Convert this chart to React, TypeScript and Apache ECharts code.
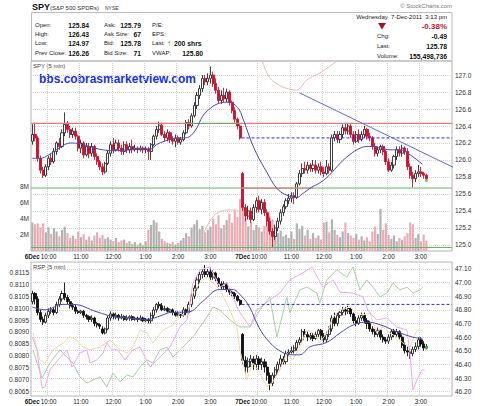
import React, { useEffect, useRef } from "react";
import * as echarts from "echarts";

const FONT = "'Liberation Sans', Arial, sans-serif";

// Two 5-minute sessions (9:30 - 15:55), 78 bars each
const sessionDays = ["6Dec", "7Dec"];
const barsPerDay = 78;

// SPY 5-min bars: [open, close, low, high]
const spyBars: number[][] = [
  [126.22,126.30,126.18,126.42],[126.30,126.26,126.22,126.44],[126.26,126.02,125.98,126.28],[126.02,125.88,125.84,126.05],
  [125.88,125.82,125.79,125.92],[125.82,125.92,125.80,125.95],[125.92,126.02,125.88,126.05],[126.02,125.98,125.94,126.08],
  [125.98,126.10,125.96,126.14],[126.10,126.20,126.06,126.22],[126.20,126.16,126.12,126.26],[126.16,126.32,126.14,126.36],
  [126.32,126.42,126.28,126.56],[126.42,126.36,126.32,126.46],[126.36,126.30,126.26,126.40],[126.30,126.34,126.26,126.38],
  [126.34,126.28,126.24,126.38],[126.28,126.14,126.10,126.30],[126.14,126.20,126.08,126.24],[126.20,126.06,126.02,126.22],
  [126.06,126.16,126.04,126.20],[126.16,126.08,126.02,126.20],[126.08,126.16,126.04,126.20],[126.16,126.04,126.00,126.18],
  [126.04,125.98,125.94,126.08],[125.98,125.92,125.88,126.00],[125.92,125.86,125.82,125.96],[125.86,125.96,125.84,125.98],
  [125.96,126.08,125.94,126.12],[126.08,126.18,126.04,126.22],[126.18,126.12,126.08,126.26],[126.12,126.20,126.10,126.24],
  [126.20,126.14,126.10,126.24],[126.14,126.10,126.06,126.18],[126.10,126.18,126.06,126.22],[126.18,126.12,126.08,126.22],
  [126.12,126.16,126.08,126.20],[126.16,126.12,126.08,126.24],[126.12,126.14,126.10,126.18],[126.14,126.12,126.08,126.16],
  [126.12,126.14,126.10,126.17],[126.14,126.12,126.08,126.16],[126.12,126.13,126.08,126.16],[126.13,126.10,126.00,126.15],
  [126.10,126.18,126.00,126.20],[126.18,126.28,126.16,126.30],[126.28,126.36,126.24,126.40],[126.36,126.41,126.32,126.45],
  [126.41,126.30,126.28,126.44],[126.30,126.26,126.22,126.34],[126.26,126.32,126.22,126.36],[126.32,126.24,126.20,126.34],
  [126.24,126.22,126.18,126.28],[126.22,126.26,126.15,126.30],[126.26,126.21,126.18,126.29],[126.21,126.24,126.18,126.27],
  [126.24,126.32,126.22,126.35],[126.32,126.44,126.30,126.47],[126.44,126.40,126.36,126.48],[126.40,126.52,126.38,126.55],
  [126.52,126.64,126.50,126.68],[126.64,126.76,126.60,126.80],[126.76,126.84,126.72,126.88],[126.84,126.96,126.80,127.00],
  [126.96,126.92,126.88,127.00],[126.92,126.96,126.88,127.02],[126.96,127.00,126.90,127.10],[127.00,126.90,126.86,127.04],
  [126.90,126.82,126.78,126.96],[126.82,126.70,126.66,126.86],[126.70,126.76,126.66,126.82],[126.76,126.72,126.68,126.85],
  [126.72,126.80,126.68,126.84],[126.80,126.68,126.64,126.82],[126.68,126.58,126.55,126.70],[126.58,126.48,126.44,126.62],
  [126.48,126.40,126.36,126.50],[126.40,126.26,126.24,126.42],
  // 7 Dec
  [125.84,125.44,125.40,125.86],[125.44,125.34,125.28,125.48],[125.34,125.40,125.30,125.46],[125.40,125.30,125.26,125.44],
  [125.30,125.44,125.28,125.48],[125.44,125.52,125.38,125.56],[125.52,125.42,125.38,125.58],[125.42,125.50,125.36,125.54],
  [125.50,125.38,125.34,125.54],[125.38,125.28,125.22,125.42],[125.28,125.16,125.12,125.32],[125.16,125.10,124.97,125.20],
  [125.10,125.20,125.06,125.24],[125.20,125.28,125.16,125.32],[125.28,125.38,125.24,125.42],[125.38,125.45,125.34,125.48],
  [125.45,125.52,125.42,125.55],[125.52,125.55,125.48,125.60],[125.55,125.58,125.50,125.62],[125.58,125.56,125.48,125.62],
  [125.56,125.72,125.54,125.74],[125.72,125.84,125.70,125.88],[125.84,125.90,125.80,125.96],[125.90,125.88,125.84,125.98],
  [125.88,125.94,125.84,125.98],[125.94,125.90,125.86,125.96],[125.90,125.94,125.86,126.00],[125.94,125.88,125.84,126.00],
  [125.88,125.92,125.84,125.96],[125.92,125.86,125.82,125.98],[125.86,125.84,125.80,125.92],[125.84,125.92,125.82,126.00],
  [125.92,125.88,125.84,125.96],[125.88,126.26,125.86,126.30],[126.26,126.30,126.22,126.34],[126.30,126.24,126.20,126.34],
  [126.24,126.30,126.20,126.34],[126.30,126.38,126.26,126.42],[126.38,126.34,126.30,126.43],[126.34,126.40,126.30,126.43],
  [126.40,126.30,126.26,126.42],[126.30,126.22,126.18,126.34],[126.22,126.30,126.20,126.34],[126.30,126.24,126.20,126.36],
  [126.24,126.30,126.22,126.34],[126.30,126.36,126.26,126.40],[126.36,126.28,126.24,126.38],[126.28,126.26,126.22,126.32],
  [126.26,126.16,126.12,126.28],[126.16,126.08,126.04,126.20],[126.08,126.12,126.04,126.16],[126.12,126.16,126.08,126.18],
  [126.16,126.10,126.06,126.18],[126.10,125.98,125.94,126.12],[125.98,125.88,125.86,126.02],[125.88,125.94,125.86,125.98],
  [125.94,126.04,125.90,126.06],[126.04,126.12,126.00,126.16],[126.12,126.08,126.04,126.16],[126.08,126.14,126.04,126.18],
  [126.14,126.10,126.06,126.16],[126.10,125.92,125.88,126.14],[125.92,125.82,125.78,125.96],[125.82,125.78,125.68,125.86],
  [125.78,125.84,125.74,125.88],[125.84,125.86,125.80,125.94],[125.86,125.84,125.80,125.92],[125.84,125.82,125.78,125.86],
  [125.82,125.78,125.76,125.84],
];

// SPY volume per bar, millions of shares
const spyVolumeM: number[] = [
  3.5,3.3,3.4,2.9,3.4,2.3,2.9,2.1,2.8,2.4, 1.8,2.6,3.0,2.2,1.6,1.9,1.5,2.4,1.7,2.1,
  1.4,1.8,1.3,1.9,2.3,1.6,2.0,1.5,1.7,1.4, 1.2,1.6,1.1,1.3,1.4,1.0,1.2,0.9,1.1,0.8,
  1.0,0.7,1.2,2.6,3.2,3.8,3.5,2.4,1.5,1.2, 1.0,0.9,1.1,0.8,1.0,1.3,1.6,2.2,1.8,2.9,
  3.3,3.8,2.7,3.1,2.3,2.6,3.0,4.0,3.3,4.4, 2.8,3.2,3.8,4.6,3.5,5.0,4.2,6.4,
  6.0,4.1,3.0,3.6,2.6,3.2,2.9,2.4,3.1,3.5, 4.3,3.9,2.8,2.2,2.5,1.8,2.0,1.6,2.4,1.5,
  3.4,2.7,3.1,1.9,2.6,1.5,2.2,1.6,1.9,1.4, 3.5,3.6,2.3,3.9,2.6,2.0,1.7,2.4,3.5,2.2,
  1.9,1.6,2.1,1.4,1.8,1.3,1.7,1.2,2.4,3.0, 2.1,5.2,2.6,3.4,2.0,1.5,1.9,1.2,1.6,1.4,
  1.8,2.2,3.5,3.3,1.6,2.1,1.2,2.0,1.3,
];

// SPY moving average, [bar index, price]
const spyMA: number[][] = [
  [0,126.02],[3,126.02],[6,126.06],[10,126.14],[14,126.20],[18,126.19],[21,126.16],[26,126.12],[30,126.11],
  [36,126.12],[41,126.13],[44,126.13],[46,126.18],[48,126.21],[52,126.25],[56,126.26],[58,126.27],[61,126.38],
  [63,126.51],[66,126.61],[69.5,126.67],[72.5,126.68],[76,126.62],[78,126.49],[80.5,126.27],[83,126.08],
  [87,125.85],[90.5,125.67],[94,125.59],[98,125.56],[100,125.60],[103.5,125.68],[106.5,125.73],[110,125.82],
  [114,125.96],[117.5,126.06],[121.5,126.14],[125,126.16],[129,126.14],[132.5,126.12],[136,126.12],[140,126.06],
  [144.5,125.95],
];

// Faint overlay curve in the price panel (0-100 panel scale), two pieces
const spyOverlayA: number[][] = [[62,5.8],[64,11],[66,16.3],[68.5,20],[72,21.6],[75,21.6],[76.5,21]];
const spyOverlayB: number[][] = [[84,105],[85,100.5],[88,91],[92.8,86.3],[98,84.7],[101.7,90],[106.5,93.7],[113.2,100.5],[116,106]];

// Price levels
const dayHigh = 126.43;
const dayLow = 124.97;
const prevClose = 126.26;
const supportLevel = 125.67;
const trendLine: number[][] = [[99, 126.79], [164, 125.79]];
const spyLast: number[][] = [[146, 125.76]];

// RSP 5-min bars: [open, close, low, high]
const rspBars: number[][] = [
  [46.86,46.92,46.84,46.94],[46.92,46.88,46.84,46.93],[46.88,46.78,46.76,46.90],[46.78,46.73,46.71,46.80],
  [46.73,46.71,46.69,46.75],[46.71,46.76,46.70,46.78],[46.76,46.79,46.74,46.81],[46.79,46.80,46.77,46.82],
  [46.80,46.78,46.76,46.82],[46.78,46.84,46.77,46.86],[46.84,46.88,46.82,46.90],[46.88,46.92,46.86,46.94],
  [46.92,46.89,46.87,47.00],[46.89,46.86,46.84,46.91],[46.86,46.83,46.81,46.88],[46.83,46.82,46.80,46.85],
  [46.82,46.79,46.77,46.84],[46.79,46.78,46.77,46.80],[46.78,46.79,46.77,46.80],[46.79,46.76,46.74,46.80],
  [46.76,46.75,46.73,46.77],[46.75,46.73,46.71,46.76],[46.73,46.74,46.71,46.76],[46.74,46.70,46.68,46.75],
  [46.70,46.69,46.67,46.71],[46.69,46.68,46.66,46.70],[46.66,46.63,46.62,46.68],[46.63,46.66,46.62,46.67],
  [46.66,46.74,46.65,46.76],[46.74,46.77,46.72,46.79],[46.77,46.75,46.73,46.78],[46.75,46.76,46.73,46.78],
  [46.76,46.74,46.72,46.77],[46.74,46.75,46.73,46.77],[46.75,46.73,46.72,46.76],[46.73,46.74,46.72,46.76],
  [46.74,46.75,46.72,46.76],[46.75,46.73,46.72,46.76],[46.73,46.74,46.72,46.75],[46.74,46.73,46.71,46.75],
  [46.73,46.74,46.72,46.76],[46.74,46.72,46.71,46.75],[46.72,46.73,46.71,46.74],[46.73,46.72,46.70,46.74],
  [46.72,46.76,46.70,46.78],[46.76,46.80,46.74,46.82],[46.80,46.84,46.78,46.85],[46.84,46.83,46.81,46.86],
  [46.83,46.80,46.79,46.85],[46.80,46.81,46.79,46.83],[46.81,46.79,46.78,46.82],[46.79,46.80,46.78,46.81],
  [46.80,46.78,46.76,46.81],[46.78,46.76,46.75,46.79],[46.76,46.77,46.75,46.79],[46.77,46.76,46.74,46.78],
  [46.76,46.80,46.75,46.82],[46.80,46.78,46.76,46.81],[46.78,46.84,46.77,46.86],[46.84,46.90,46.82,46.92],
  [46.90,46.96,46.88,46.98],[46.96,47.02,46.94,47.04],[47.02,47.06,47.00,47.08],[47.06,47.08,47.03,47.10],
  [47.08,47.06,47.04,47.13],[47.06,47.08,47.04,47.10],[47.08,47.04,47.02,47.11],[47.04,47.07,47.02,47.09],
  [47.07,47.03,47.01,47.08],[47.03,46.99,46.97,47.04],[46.99,46.97,46.95,47.01],[46.97,46.99,46.95,47.01],
  [46.99,46.95,46.93,47.00],[46.95,46.93,46.91,46.96],[46.93,46.92,46.90,46.94],[46.92,46.90,46.88,46.93],
  [46.90,46.87,46.86,46.91],[46.87,46.84,46.83,46.88],
  // 7 Dec
  [46.62,46.43,46.40,46.63],[46.43,46.38,46.33,46.46],[46.38,46.42,46.34,46.45],[46.42,46.44,46.38,46.47],
  [46.44,46.40,46.36,46.46],[46.40,46.44,46.36,46.47],[46.44,46.40,46.36,46.46],[46.40,46.42,46.36,46.45],
  [46.42,46.38,46.34,46.44],[46.38,46.32,46.28,46.42],[46.32,46.26,46.21,46.34],[46.26,46.32,46.24,46.34],
  [46.32,46.36,46.30,46.38],[46.36,46.40,46.34,46.42],[46.40,46.44,46.38,46.47],[46.44,46.42,46.40,46.46],
  [46.42,46.48,46.40,46.50],[46.48,46.49,46.46,46.51],[46.49,46.50,46.48,46.53],[46.50,46.52,46.48,46.54],
  [46.52,46.56,46.50,46.58],[46.56,46.58,46.54,46.60],[46.58,46.64,46.56,46.66],[46.64,46.62,46.60,46.66],
  [46.62,46.60,46.57,46.64],[46.60,46.61,46.58,46.63],[46.61,46.59,46.57,46.63],[46.59,46.62,46.58,46.64],
  [46.62,46.65,46.60,46.66],[46.65,46.61,46.58,46.66],[46.61,46.58,46.56,46.63],[46.58,46.62,46.56,46.64],
  [46.62,46.66,46.60,46.68],[46.66,46.74,46.64,46.76],[46.74,46.70,46.68,46.78],[46.70,46.76,46.68,46.78],
  [46.76,46.78,46.74,46.80],[46.78,46.80,46.76,46.82],[46.80,46.79,46.76,46.82],[46.79,46.81,46.77,46.83],
  [46.81,46.77,46.75,46.82],[46.77,46.72,46.70,46.78],[46.72,46.70,46.68,46.75],[46.70,46.74,46.69,46.76],
  [46.74,46.76,46.72,46.78],[46.76,46.72,46.70,46.78],[46.72,46.70,46.66,46.74],[46.70,46.66,46.64,46.72],
  [46.66,46.64,46.62,46.68],[46.64,46.62,46.60,46.66],[46.62,46.65,46.60,46.67],[46.65,46.60,46.58,46.66],
  [46.60,46.58,46.56,46.62],[46.58,46.57,46.55,46.60],[46.57,46.60,46.55,46.62],[46.60,46.64,46.58,46.66],
  [46.64,46.62,46.60,46.66],[46.62,46.64,46.60,46.66],[46.64,46.60,46.58,46.65],[46.60,46.54,46.52,46.62],
  [46.54,46.50,46.48,46.56],[46.50,46.49,46.46,46.53],[46.49,46.48,46.44,46.52],[46.48,46.51,46.46,46.53],
  [46.51,46.53,46.49,46.56],[46.53,46.58,46.51,46.60],[46.58,46.55,46.53,46.60],[46.55,46.52,46.50,46.57],
  [46.52,46.53,46.51,46.55],
];

// RSP moving average, [bar index, price]
const rspMA: number[][] = [
  [0,46.82],[5,46.80],[11,46.84],[15,46.84],[24,46.785],[30,46.75],[36,46.74],[42.5,46.73],[48,46.76],[51,46.78],
  [58,46.785],[63,46.86],[69.5,46.95],[74,46.95],[77.5,46.90],[80.5,46.82],[84,46.67],[88,46.56],[92.5,46.49],
  [96.5,46.47],[99,46.47],[103,46.53],[109,46.56],[114,46.63],[119,46.69],[124,46.71],[129,46.69],[135,46.64],
  [141,46.60],[144.5,46.59],
];
const rspPrevClose = 46.84;
const rspLast: number[][] = [[146, 46.52]];

// Comparison lines in the lower panel, left scale, [bar index, value]
const relGreen: number[][] = [
  [0.2,0.80825],[3.6,0.80707],[6.5,0.8077],[10.2,0.80825],[12.8,0.80795],[15,0.8077],[17.6,0.80712],[20.2,0.80686],
  [22.5,0.80699],[25.1,0.80712],[27.6,0.8067],[29.9,0.80728],[32.5,0.80691],[35.1,0.8072],[37.3,0.80712],[39.9,0.80753],
  [42.5,0.80783],[44.7,0.8077],[47.3,0.80825],[49.9,0.80837],[52.1,0.80795],[54.7,0.80825],[57.3,0.80854],[59.5,0.80879],
  [62.1,0.80921],[64.7,0.80963],[66.9,0.81005],[69.5,0.80992],[73.2,0.8095],[76.9,0.80921],[80.6,0.80921],[84.3,0.80992],
  [88,0.81047],[90.6,0.80879],[92.5,0.80963],[94.3,0.81047],[95.4,0.8098],[99.1,0.81076],[101.7,0.81088],[105.4,0.81063],
  [106.5,0.81021],[109.1,0.81118],[112.8,0.8116],[116.5,0.8113],[118.8,0.81172],[121.4,0.81076],[123.9,0.81118],
  [126.2,0.81088],[128.8,0.81047],[131.4,0.81063],[133.6,0.81105],[136.2,0.81076],[138.8,0.81088],[141,0.81063],
  [143.6,0.81076],[144.7,0.81088],
];
const relPink: number[][] = [
  [0,0.80879],[1.7,0.80825],[3.6,0.80665],[4.7,0.8067],[6.5,0.80741],[9.5,0.80783],[12.8,0.80825],[14.7,0.80753],
  [17.6,0.80812],[20.2,0.80825],[21.4,0.8077],[23.9,0.80783],[26.2,0.80812],[27.6,0.80854],[29.5,0.80825],[31.7,0.80825],
  [34.3,0.80783],[37.3,0.80825],[39.9,0.80837],[43.6,0.80753],[47.3,0.80795],[51,0.80837],[54.7,0.80921],[57.3,0.8095],
  [59.5,0.81105],[62.1,0.8116],[65.8,0.81172],[69.5,0.81088],[72.1,0.81105],[74.3,0.81047],[75.8,0.81005],[77,0.8098],
  [80.6,0.80921],[83.2,0.80992],[88,0.81034],[91.7,0.81063],[95.4,0.81118],[100.2,0.81147],[103.6,0.81172],
  [107.6,0.81088],[111.4,0.81118],[114,0.81067],[118.8,0.81063],[122.5,0.81047],[124.3,0.80992],[127.6,0.8095],
  [131.4,0.80959],[135,0.80921],[138.8,0.80908],[139.9,0.80812],[141,0.80657],[142.5,0.80699],[144.3,0.80741],
  [145.4,0.80741],
];
const relOrange: number[][] = [
  [0.2,0.80896],[2.8,0.80783],[4.7,0.8077],[7.6,0.80825],[11.4,0.80854],[13.9,0.80879],[16.5,0.80866],[18.8,0.80837],
  [21.4,0.80825],[25.1,0.80837],[28.8,0.80866],[32.5,0.80825],[35.1,0.80812],[37.3,0.80837],[39.9,0.80908],[42.5,0.80896],
  [44.7,0.80854],[48.4,0.80908],[52.1,0.80929],[54.7,0.80979],[57.3,0.80963],[59.5,0.81063],[62.1,0.81105],[64.7,0.8113],
  [66.9,0.81105],[69.5,0.81076],[73.2,0.80992],[75.8,0.80921],[76.9,0.80825],[79.5,0.80699],[81.7,0.8077],[84.3,0.80728],
  [86.9,0.8067],[89.1,0.80691],[91.7,0.80741],[94.3,0.80812],[96.5,0.80783],[99.1,0.80837],[101.7,0.80908],[104,0.80896],
  [106.5,0.80854],[109.1,0.80896],[111.4,0.80963],[114,0.80992],[117.6,0.81005],[120.2,0.80979],[122.5,0.80971],
  [125.1,0.80979],[127.6,0.80896],[129.9,0.80921],[132.5,0.80896],[135,0.80879],[137.3,0.80854],[139.9,0.80837],
  [142.5,0.80908],[144.7,0.80908],
];

// Axis tick labels
const priceTicks = [125.0, 125.2, 125.4, 125.6, 125.8, 126.0, 126.2, 126.4, 126.6, 126.8, 127.0];
const volumeTicks = [2, 4, 6, 8];
const rspTicks = [46.2, 46.3, 46.4, 46.5, 46.6, 46.7, 46.8, 46.9, 47.0, 47.1];
const ratioTicks = [0.8065, 0.807, 0.8075, 0.808, 0.8085, 0.809, 0.8095, 0.81, 0.8105, 0.811, 0.8115];

const UP_VOL = "#b3b3b3";
const DOWN_VOL = "#eaadb5";
const SPY_RED = "#d0102c";
const GRID_LINE = "#d4d4d4";

function timeOfBar(k: number): string {
  const minutes = 570 + 5 * k;
  const h = Math.floor(minutes / 60);
  const m = minutes % 60;
  const h12 = h > 12 ? h - 12 : h;
  return `${h12}:${String(m).padStart(2, "0")}`;
}

const barTimes: string[] = [];
sessionDays.forEach(() => {
  for (let k = 0; k < barsPerDay; k++) barTimes.push(timeOfBar(k));
});

const isHour = (k: number) => k >= 6 && (k - 6) % 12 === 0;

function timeAxis(gridIndex: number) {
  return {
    type: "category",
    gridIndex,
    data: barTimes,
    boundaryGap: true,
    axisLine: { show: false },
    axisTick: { show: false },
    axisLabel: {
      interval: (i: number) => i % barsPerDay === 0 || isHour(i % barsPerDay),
      formatter: (v: string, i: number) =>
        i % barsPerDay === 0 ? `{d|${sessionDays[Math.floor(i / barsPerDay)]}}` : v,
      fontSize: 6.3,
      fontFamily: FONT,
      color: "#1a1a1a",
      margin: 2,
      rich: { d: { fontSize: 6.3, fontWeight: "bold", fontFamily: FONT, color: "#1a1a1a" } },
    },
    splitLine: {
      show: true,
      interval: (i: number) => isHour(i % barsPerDay),
      lineStyle: { color: GRID_LINE, type: "dotted", width: 1 },
    },
  };
}

function indexAxis(gridIndex: number) {
  return { type: "value", gridIndex, min: -0.5, max: barsPerDay * 2 - 0.5, show: false };
}

function level(name: string, x0: number, x1: number, y: number, color: string, yAxisIndex = 0, xAxisIndex = 2, dashed = false, width = 1) {
  return {
    name,
    type: "line",
    xAxisIndex,
    yAxisIndex,
    data: [[x0, y], [x1, y]],
    showSymbol: false,
    silent: true,
    lineStyle: { color, width, type: dashed ? [3, 2] : "solid" },
  };
}

function axisLabelStyle(extra: object) {
  return { fontSize: 6.5, fontFamily: FONT, color: "#333", ...extra };
}

function buildOption() {
  const last = barsPerDay * 2 - 0.5;
  const txt = (text: string, x: number, y: number, font: string, fill = "#222", align = "left") => ({
    type: "text",
    x,
    y,
    silent: true,
    style: { text, font, fill, align, verticalAlign: "middle", textAlign: align, textVerticalAlign: "middle" },
  });
  const small = `6px ${FONT}`;
  const bold = `bold 6.8px ${FONT}`;

  return {
    animation: false,
    backgroundColor: "#ffffff",
    textStyle: { fontFamily: FONT },
    grid: [
      { left: 31, top: 61, width: 421, height: 190, show: true, borderColor: "#b5b5b5", borderWidth: 1, backgroundColor: "#fff" },
      { left: 31, top: 262, width: 421, height: 134, show: true, borderColor: "#b5b5b5", borderWidth: 1, backgroundColor: "#fff" },
    ],
    xAxis: [timeAxis(0), timeAxis(1), indexAxis(0), indexAxis(1)],
    yAxis: [
      {
        type: "value", gridIndex: 0, position: "right", min: 124.929, max: 127.165,
        axisLine: { show: false },
        axisTick: { show: false, customValues: priceTicks },
        axisLabel: axisLabelStyle({ customValues: priceTicks, formatter: (v: number) => v.toFixed(1), margin: 3 }),
        splitLine: { show: true, lineStyle: { color: GRID_LINE, type: "dotted" } },
      },
      {
        type: "value", gridIndex: 0, position: "left", min: 0, max: 23.4,
        axisLine: { show: false },
        axisTick: { show: false, customValues: volumeTicks },
        axisLabel: axisLabelStyle({ customValues: volumeTicks, formatter: (v: number) => `${v}M`, margin: 2 }),
        splitLine: { show: false },
      },
      { type: "value", gridIndex: 0, min: 0, max: 100, show: false },
      {
        type: "value", gridIndex: 1, position: "right", min: 46.168, max: 47.151,
        axisLine: { show: false },
        axisTick: { show: false, customValues: rspTicks },
        axisLabel: axisLabelStyle({ customValues: rspTicks, formatter: (v: number) => v.toFixed(2), margin: 3 }),
        splitLine: { show: true, lineStyle: { color: GRID_LINE, type: "dotted" } },
      },
      {
        type: "value", gridIndex: 1, position: "left", min: 0.80632, max: 0.81193,
        axisLine: { show: false },
        axisTick: { show: false, customValues: ratioTicks },
        axisLabel: axisLabelStyle({ customValues: ratioTicks, formatter: (v: number) => v.toFixed(4), margin: 2 }),
        splitLine: { show: false },
      },
    ],
    series: [
      // ---- price panel ----
      {
        name: "Volume",
        type: "bar",
        xAxisIndex: 0,
        yAxisIndex: 1,
        barWidth: 2.2,
        silent: true,
        data: spyVolumeM.map((v, i) => ({
          value: v,
          itemStyle: { color: spyBars[i][1] >= spyBars[i][0] ? UP_VOL : DOWN_VOL },
        })),
      },
      {
        name: "Overlay A", type: "line", xAxisIndex: 2, yAxisIndex: 2, data: spyOverlayA,
        showSymbol: false, smooth: 0.3, silent: true, lineStyle: { color: "#f2b8b8", width: 1 },
      },
      {
        name: "Overlay B", type: "line", xAxisIndex: 2, yAxisIndex: 2, data: spyOverlayB,
        showSymbol: false, smooth: 0.3, silent: true, lineStyle: { color: "#f2b8b8", width: 1 },
      },
      level("Day high", -0.5, last, dayHigh, "#f27878", 0, 2, false, 1.2),
      level("Prior high", 56.5, 77.5, dayHigh, "#5cb85c"),
      level("Support", -0.5, last, supportLevel, "#5cb85c"),
      level("Support today", 77.5, 104, supportLevel, "#f27878", 0, 2, false, 1.2),
      level("Day low", -0.5, last, dayLow, "#5cb85c"),
      level("Prev close", 77.5, last, prevClose, "#2a2aff", 0, 2, true),
      {
        name: "SPY",
        type: "candlestick",
        xAxisIndex: 0,
        yAxisIndex: 0,
        barWidth: 2.6,
        silent: true,
        data: spyBars.map((b) => [b[0], b[1], b[2], b[3]]),
        itemStyle: { color: "#ffffff", color0: SPY_RED, borderColor: "#2a2a2a", borderColor0: SPY_RED, borderWidth: 0.9 },
      },
      {
        name: "SPY MA", type: "line", xAxisIndex: 2, yAxisIndex: 0, data: spyMA,
        showSymbol: false, smooth: 0.4, silent: true, lineStyle: { color: "#4848c4", width: 1 },
      },
      {
        name: "Trend", type: "line", xAxisIndex: 2, yAxisIndex: 0, data: trendLine, clip: false,
        showSymbol: false, silent: true, lineStyle: { color: "#5a6cf4", width: 1 },
      },
      {
        name: "SPY last", type: "scatter", xAxisIndex: 2, yAxisIndex: 0, data: spyLast,
        symbolSize: 3, silent: true, itemStyle: { color: "#33cc33" },
      },
      // ---- RSP panel ----
      {
        name: "Green", type: "line", xAxisIndex: 3, yAxisIndex: 4, data: relGreen,
        showSymbol: false, silent: true, lineStyle: { color: "#a9cfa9", width: 1 },
      },
      {
        name: "Orange", type: "line", xAxisIndex: 3, yAxisIndex: 4, data: relOrange,
        showSymbol: false, silent: true, lineStyle: { color: "#f3d8a8", width: 1 },
      },
      {
        name: "Pink", type: "line", xAxisIndex: 3, yAxisIndex: 4, data: relPink,
        showSymbol: false, silent: true, lineStyle: { color: "#f2a6ef", width: 1 },
      },
      level("RSP prev close", 77.5, last, rspPrevClose, "#2a2aff", 3, 3, true),
      {
        name: "RSP",
        type: "candlestick",
        xAxisIndex: 1,
        yAxisIndex: 3,
        barWidth: 2.6,
        silent: true,
        data: rspBars.map((b) => [b[0], b[1], b[2], b[3]]),
        itemStyle: { color: "#ffffff", color0: "#111", borderColor: "#222", borderColor0: "#111", borderWidth: 0.9 },
      },
      {
        name: "RSP MA", type: "line", xAxisIndex: 3, yAxisIndex: 3, data: rspMA,
        showSymbol: false, smooth: 0.4, silent: true, lineStyle: { color: "#4848c4", width: 1 },
      },
      {
        name: "RSP last", type: "scatter", xAxisIndex: 3, yAxisIndex: 3, data: rspLast,
        symbolSize: 3, silent: true, itemStyle: { color: "#33cc33" },
      },
    ],
    graphic: [
      { type: "rect", silent: true, shape: { x: 31.5, y: 12.5, width: 420.5, height: 48.5 }, style: { fill: "none", stroke: "#bdbdbd", lineWidth: 1 } },
      txt("SPY", 32, 7, `bold 9px ${FONT}`, "#111"),
      txt("(S&P 500 SPDRs)", 50, 7.5, `6px ${FONT}`, "#333"),
      txt("NYSE", 105, 7.5, `5px ${FONT}`, "#333"),
      txt("© StockCharts.com", 452, 6, `6px ${FONT}`, "#777", "right"),

      txt("Open:", 35, 25, small), txt("125.84", 89, 25, bold, "#111", "right"),
      txt("Ask:", 104, 25, small), txt("125.79", 141, 25, bold, "#111", "right"),
      txt("P/E:", 152, 25, small),
      txt("High:", 35, 34, small), txt("126.43", 89, 34, bold, "#111", "right"),
      txt("Ask Size:", 104, 34, small), txt("67", 141, 34, bold, "#111", "right"),
      txt("EPS:", 152, 34, small),
      txt("Low:", 35, 43, small), txt("124.97", 89, 43, bold, "#111", "right"),
      txt("Bid:", 104, 43, small), txt("125.78", 141, 43, bold, "#111", "right"),
      txt("Last:", 152, 43, small), txt("↑", 169, 43, `bold 8px ${FONT}`, "#1d8a1d", "center"),
      txt("200 shrs", 174, 43, bold, "#111"),
      txt("Prev Close:", 35, 53, small), txt("126.26", 89, 53, bold, "#111", "right"),
      txt("Bid Size:", 104, 53, small), txt("71", 141, 53, bold, "#111", "right"),
      txt("VWAP:", 152, 53, small), txt("125.80", 203, 53, bold, "#111", "right"),

      txt("Wednesday  7-Dec-2011  3:13 pm", 447, 17, small, "#222", "right"),
      { type: "polygon", silent: true, shape: { points: [[378, 23], [386, 23], [382, 29.5]] }, style: { fill: "#a8102a" } },
      txt("-0.38%", 447, 26.5, `bold 8px ${FONT}`, "#c8102e", "right"),
      txt("Chg:", 377, 36, small), txt("-0.49", 447, 36, bold, "#111", "right"),
      txt("Last:", 377, 46, small), txt("125.78", 447, 46, bold, "#111", "right"),
      txt("Volume:", 377, 56, small), txt("155,498,736", 447, 56, bold, "#111", "right"),

      txt("SPY (5 min)", 33, 66, `6px ${FONT}`, "#444"),
      txt("bbs.cobrasmarketview.com", 39, 79, `bold 12px ${FONT}`, "#1530ff"),
      txt("RSP (5 min)", 33, 266.5, `6px ${FONT}`, "#444"),
    ],
  };
}

export default function App() {
  const ref = useRef<HTMLDivElement>(null);
  useEffect(() => {
    if (!ref.current) return;
    const chart = echarts.init(ref.current, null, { renderer: "svg" });
    chart.setOption(buildOption() as any);
    return () => chart.dispose();
  }, []);
  return (
    <div
      ref={ref}
      style={{ position: "fixed", left: 0, top: 0, width: 480, height: 406, background: "#fff" }}
    />
  );
}
